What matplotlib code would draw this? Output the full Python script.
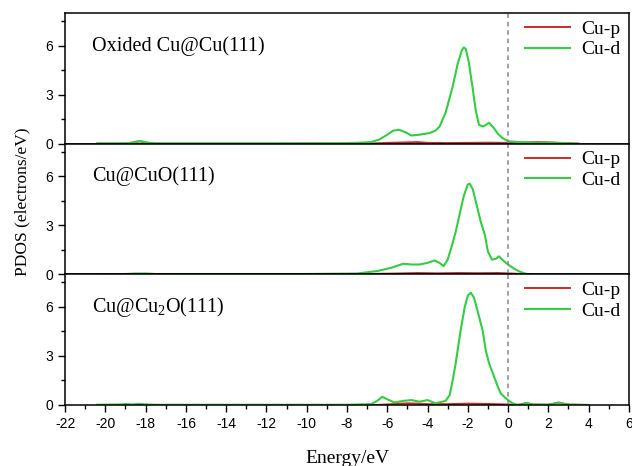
import numpy as np
import matplotlib
matplotlib.use('Agg')
import matplotlib.pyplot as plt
from matplotlib.ticker import MultipleLocator

plt.rcParams['axes.unicode_minus'] = False
plt.rcParams['mathtext.fontset'] = 'custom'
plt.rcParams['mathtext.rm'] = 'Liberation Serif'

# panel names
panels = ['Oxided Cu@Cu(111)', 'Cu@CuO(111)', r'Cu@Cu$_\mathrm{2}$O(111)']

# Cu-d, oxided Cu@Cu(111)
e_d1 = [-20.4, -19.0, -18.8, -18.5, -18.3, -18.1, -17.8, -17.5, -12.0, -8.5, -7.5, -6.8, -6.4,
        -6.0, -5.7, -5.4, -5.1, -4.8, -4.4, -3.9, -3.6, -3.4, -3.1, -2.75, -2.5, -2.3, -2.2,
        -2.1, -1.95, -1.77, -1.6, -1.44, -1.25, -1.1, -0.94, -0.7, -0.5, -0.28, 0.0, 0.5,
        1.0, 1.5, 2.0, 2.5, 3.0, 3.5]
d1 = [0.02, 0.02, 0.05, 0.12, 0.15, 0.12, 0.05, 0.02, 0.02, 0.03, 0.05, 0.1, 0.25,
      0.55, 0.8, 0.85, 0.7, 0.5, 0.55, 0.65, 0.8, 1.05, 1.9, 3.5, 4.9, 5.7, 5.9,
      5.8, 5.0, 3.5, 2.0, 1.15, 1.05, 1.15, 1.28, 0.95, 0.6, 0.35, 0.15, 0.1,
      0.08, 0.07, 0.06, 0.05, 0.03, 0.0]
# Cu-p, oxided Cu@Cu(111)
e_p1 = [-20.4, -18.8, -18.5, -18.3, -18.1, -17.8, -7.0, -6.0, -5.0, -4.5, -4.0, -3.0, -2.0,
        -1.0, 0.0, 1.0, 1.5, 2.0, 3.0, 3.5]
p1 = [0.0, 0.0, 0.1, 0.15, 0.1, 0.0, 0.0, 0.05, 0.08, 0.1, 0.05, 0.04, 0.05,
      0.06, 0.05, 0.08, 0.1, 0.08, 0.02, 0.0]

# Cu-d, Cu@CuO(111)
e_d2 = [-20.4, -19.0, -18.5, -18.0, -17.5, -10.0, -7.5, -6.5, -5.8, -5.2, -4.8, -4.4, -4.0,
        -3.65, -3.4, -3.2, -3.0, -2.8, -2.6, -2.4, -2.2, -2.0, -1.9, -1.75, -1.55, -1.35,
        -1.15, -1.0, -0.8, -0.6, -0.45, -0.25, 0.0, 0.3, 0.6, 0.9, 1.2]
d2 = [0.01, 0.02, 0.05, 0.05, 0.02, 0.02, 0.05, 0.2, 0.4, 0.65, 0.6, 0.6, 0.7,
      0.85, 0.7, 0.5, 0.9, 1.7, 2.6, 3.7, 4.8, 5.5, 5.55, 5.2, 4.2, 3.2,
      2.4, 1.4, 0.9, 0.95, 1.1, 0.85, 0.6, 0.35, 0.15, 0.03, 0.0]
# Cu-p, Cu@CuO(111)
e_p2 = [-20.4, -7.0, -6.5, -5.5, -4.5, -3.5, -2.5, -1.5, -0.5, 0.0, 0.5, 1.0]
p2 = [0.0, 0.0, 0.03, 0.05, 0.08, 0.06, 0.08, 0.07, 0.08, 0.06, 0.03, 0.0]

# Cu-d, Cu@Cu2O(111)
e_d3 = [-20.4, -19.2, -19.0, -18.7, -18.3, -18.0, -17.5, -8.0, -6.8, -6.5, -6.25, -6.0,
        -5.65, -5.2, -4.8, -4.4, -4.0, -3.6, -3.1, -2.9, -2.75, -2.6, -2.35, -2.15, -2.0,
        -1.85, -1.7, -1.5, -1.27, -1.1, -0.94, -0.7, -0.5, -0.36, -0.15, 0.0, 0.2, 0.4,
        0.7, 0.95, 1.2, 2.0, 2.5, 3.0, 4.0]
d3 = [0.01, 0.03, 0.06, 0.03, 0.06, 0.03, 0.01, 0.01, 0.05, 0.25, 0.5, 0.35,
      0.15, 0.25, 0.3, 0.2, 0.3, 0.1, 0.25, 0.6, 1.5, 2.55, 4.6, 6.0, 6.7,
      6.87, 6.6, 5.7, 4.6, 3.3, 2.55, 1.75, 1.1, 0.7, 0.45, 0.3, 0.12, 0.02,
      0.03, 0.12, 0.03, 0.02, 0.12, 0.02, 0.0]
# Cu-p, Cu@Cu2O(111)
e_p3 = [-20.4, -6.5, -5.0, -4.5, -4.0, -3.0, -2.0, -1.0, 0.0, 0.5, 0.9, 1.2, 2.0, 2.5, 3.0, 4.0]
p3 = [0.0, 0.0, 0.1, 0.08, 0.05, 0.05, 0.08, 0.06, 0.03, 0.0, 0.12, 0.02, 0.01, 0.15, 0.02, 0.0]

series = [(e_p1, p1, e_d1, d1), (e_p2, p2, e_d2, d2), (e_p3, p3, e_d3, d3)]

red = '#cc2a2a'
green = '#33cc44'


def main():
    fig = plt.figure(figsize=(6.32, 4.66), dpi=100)
    left, right, top, bottom = 0.103, 0.995, 0.972, 0.131
    h = (top - bottom) / 3
    axes = []
    for i in range(3):
        ax = fig.add_axes([left, top - (i + 1) * h, right - left, h])
        ep, p, ed, d = series[i]
        ax.plot(ep, p, color=red, lw=1.4, label='Cu-p')
        ax.plot(ed, d, color=green, lw=1.5, label='Cu-d')
        ax.axvline(0, color='#888888', ls=(0, (3, 2.5)), lw=1.1)
        ax.set_xlim(-22, 6)
        ax.set_ylim(0, 8)
        ax.set_yticks([0, 3, 6])
        ax.yaxis.set_minor_locator(MultipleLocator(1.5))
        ax.xaxis.set_major_locator(MultipleLocator(2))
        ax.xaxis.set_minor_locator(MultipleLocator(1))
        ax.tick_params(which='both', direction='out', top=False, right=False,
                       labelsize=10, width=1)
        ax.tick_params(which='major', length=5)
        ax.tick_params(which='minor', length=3)
        for lab in ax.get_yticklabels():
            lab.set_fontfamily('Liberation Sans')
        for s in ax.spines.values():
            s.set_linewidth(1.1)
        ax.text(0.048, 0.75, panels[i], transform=ax.transAxes,
                family='Liberation Serif', fontsize=14.5, va='center')
        ax.legend(loc='upper right', bbox_to_anchor=(0.992, 0.975), frameon=False,
                  handlelength=2.3, prop={'family': 'Liberation Serif', 'size': 14},
                  borderaxespad=0.0, borderpad=0.2, labelspacing=0.15,
                  handletextpad=0.6)
        if i < 2:
            ax.tick_params(axis='x', which='both', bottom=False, labelbottom=False)
        else:
            for lab in ax.get_xticklabels():
                lab.set_fontfamily('Liberation Sans')
        axes.append(ax)

    axes[2].set_xlabel('Energy/eV', family='Liberation Serif', fontsize=14, labelpad=14)
    fig.text(0.035, 0.567, 'PDOS (electrons/eV)', rotation=90,
             family='Liberation Serif', fontsize=12.5, ha='center', va='center')
    plt.savefig('out.png', dpi=100)
    plt.close()


if __name__ == '__main__':
    main()
